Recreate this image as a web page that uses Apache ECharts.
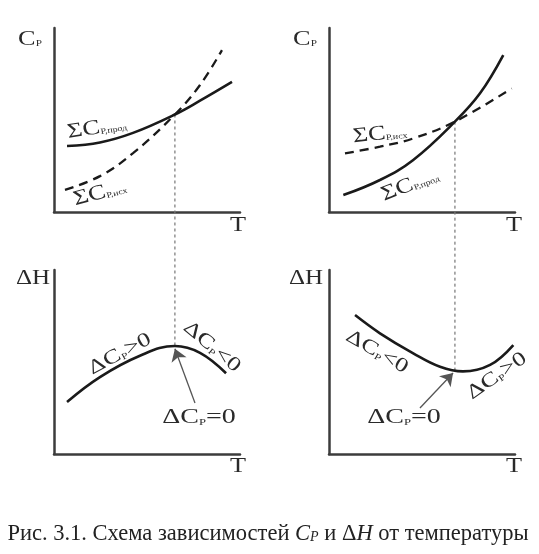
<!DOCTYPE html>
<html><head><meta charset="utf-8">
<script src="https://cdn.jsdelivr.net/npm/echarts@6/dist/echarts.min.js"></script>
<style>html,body{margin:0;padding:0;background:#fff}#c{width:539px;height:554px}</style>
</head><body><div id="c"></div>
<script>
// ---- data (schematic; T and value in arbitrary units 0..10) ----
// top-left: ΣCp,прод (solid) and ΣCp,исх (dashed)
const tlProdT = [0.7, 2.47, 4.25, 6.5, 7.85, 9.57];
const tlProdC = [3.59, 3.78, 4.3, 5.3, 6.05, 7.07];
const tlIshT  = [0.59, 2.47, 4.25, 6.5, 7.85, 9.03];
const tlIshC  = [1.2, 1.95, 3.2, 5.3, 6.9, 8.8];
// top-right
const trProdT = [0.77, 2.74, 4.53, 6.77, 8.12, 9.37];
const trProdC = [0.92, 1.74, 2.83, 4.91, 6.45, 8.53];
const trIshT  = [0.86, 2.74, 4.53, 6.77, 9.82];
const trIshC  = [3.19, 3.55, 4.0, 4.91, 6.72];
// bottom-left: ΔH with maximum
const blT = [0.7, 2.47, 4.62, 6.5, 7.85, 9.25];
const blH = [2.83, 4.18, 5.34, 5.87, 5.5, 4.39];
// bottom-right: ΔH with minimum
const brT = [1.4, 2.74, 4.53, 5.97, 7.2, 8.66, 9.91];
const brH = [7.55, 6.56, 5.47, 4.74, 4.49, 4.84, 5.92];
// arrows pointing to the extremum (from label to curve)
const blArrow = [[7.58, 2.77], [6.5, 5.72]];
const brArrow = [[4.89, 2.5], [6.67, 4.4]];
// crossing / extremum: T and the values on the upper and lower panels
const leftCross = {t: 6.5, top: 5.3, bottom: 5.87};
const rightCross = {t: 6.77, top: 4.91, bottom: 4.52};

const zip = (a, b) => a.map((v, i) => [v, b[i]]);

// ---- layout ----
const W = 186, H = 184;
const L1 = 54, L2 = 329, T1 = 28, T2 = 270;
const unitY = H / 10;
const overlayH = T2 + H - T1;
const overlayMax = overlayH / unitY;
const topOffset = (T2 - T1) / unitY;

const axisColor = '#3c3c3c';
const inkColor = '#1a1a1a';
const textColor = '#2a2a2a';
const serif = '"Liberation Serif", "DejaVu Serif", serif';

function vAxis(gi, show) {
  return {type: 'value', gridIndex: gi, min: 0, max: 10, show: show,
    axisLine: {show: true, onZero: false, lineStyle: {color: axisColor, width: 2.5}},
    axisTick: {show: false}, axisLabel: {show: false}, splitLine: {show: false}};
}
const xAxes = [0,1,2,3].map(i => vAxis(i, true)).concat([vAxis(4, false), vAxis(5, false)]);
const yAxes = [0,1,2,3].map(i => vAxis(i, true)).concat([
  Object.assign(vAxis(4, false), {max: overlayMax}),
  Object.assign(vAxis(5, false), {max: overlayMax})
]);

function curve(gi, data, dashed, extra) {
  return Object.assign({
    type: 'line', xAxisIndex: gi, yAxisIndex: gi, data: data, smooth: 0.4,
    symbol: 'none', silent: true, z: 3,
    lineStyle: {color: inkColor, width: dashed ? 2.3 : 2.6, type: dashed ? [9, 6] : 'solid'}
  }, extra || {});
}
function arrowML(pts) {
  return {silent: true, symbol: ['none', 'arrow'], symbolSize: 12,
    lineStyle: {color: '#555', width: 1.3, type: 'solid'}, label: {show: false},
    itemStyle: {color: '#222'},
    data: [[{coord: pts[0]}, {coord: pts[1]}]]};
}
function dotted(gi, c) {
  return {type: 'line', xAxisIndex: gi, yAxisIndex: gi, symbol: 'none', silent: true, z: 1,
    lineStyle: {color: '#777', width: 1.2, type: [3, 3]},
    data: [[c.t, c.top + topOffset], [c.t, c.bottom]]};
}

function txt(x, y, str, rot, mainSize, subSize, sx) {
  return {type: 'text', x: x, y: y, rotation: rot * Math.PI / 180, scaleX: sx || 1.25, z: 10,
    style: {text: str, align: 'center', verticalAlign: 'middle', fill: textColor,
      font: mainSize + 'px ' + serif,
      rich: {
        m: {fontSize: mainSize, fontFamily: serif, fill: textColor},
        s: {fontSize: subSize, fontFamily: serif, fill: textColor,
            padding: [Math.round(mainSize * 0.45), 0, 0, 0]}
      }}};
}

const graphics = [
  txt(30, 39, '{m|C}{s|P}', 0, 21, 9),
  txt(305, 39, '{m|C}{s|P}', 0, 21, 9),
  txt(33, 279, '{m|ΔH}', 0, 20, 9),
  txt(306, 279, '{m|ΔH}', 0, 20, 9),
  txt(238, 225, '{m|T}', 0, 21, 9),
  txt(514, 225, '{m|T}', 0, 21, 9),
  txt(238, 466, '{m|T}', 0, 21, 9),
  txt(514, 466, '{m|T}', 0, 21, 9),
  txt(97, 128, '{m|ΣC}{s|Р,прод}', 9, 21, 8),
  txt(100, 193, '{m|ΣC}{s|Р,исх}', 15, 21, 8),
  txt(380, 134, '{m|ΣC}{s|Р,исх}', 6, 21, 8),
  txt(410, 185, '{m|ΣC}{s|Р,прод}', 21, 21, 8),
  txt(120, 354, '{m|ΔC}{s|P}{m|>0}', 28, 20, 9, 1.3),
  txt(212, 347, '{m|ΔC}{s|P}{m|<0}', -40, 20, 9, 1.3),
  txt(199, 418, '{m|ΔC}{s|P}{m|=0}', 0, 20, 9, 1.4),
  txt(377, 352, '{m|ΔC}{s|P}{m|<0}', -30, 20, 9, 1.3),
  txt(497, 376, '{m|ΔC}{s|P}{m|>0}', 35, 20, 9, 1.3),
  txt(404, 418, '{m|ΔC}{s|P}{m|=0}', 0, 20, 9, 1.4),
  {type: 'text', x: 268, y: 534, z: 10,
    style: {text: '{n|Рис. 3.1. Схема зависимостей }{i|C}{is|P}{n| и Δ}{i|H}{n| от температуры}',
      align: 'center', verticalAlign: 'middle', fill: '#222', font: '22.5px ' + serif,
      rich: {
        n: {fontSize: 22.5, fontFamily: serif, fill: '#222'},
        i: {fontSize: 22.5, fontFamily: serif, fontStyle: 'italic', fill: '#222'},
        is: {fontSize: 14, fontFamily: serif, fontStyle: 'italic', fill: '#222', padding: [7, 0, 0, 0]}
      }}}
];

const option = {
  animation: false,
  backgroundColor: '#fff',
  grid: [
    {left: L1, top: T1, width: W, height: H},
    {left: L2, top: T1, width: W, height: H},
    {left: L1, top: T2, width: W, height: H},
    {left: L2, top: T2, width: W, height: H},
    {left: L1, top: T1, width: W, height: overlayH},
    {left: L2, top: T1, width: W, height: overlayH}
  ],
  xAxis: xAxes,
  yAxis: yAxes,
  series: [
    curve(0, zip(tlProdT, tlProdC), false),
    curve(0, zip(tlIshT, tlIshC), true),
    curve(1, zip(trProdT, trProdC), false),
    curve(1, zip(trIshT, trIshC), true),
    curve(2, zip(blT, blH), false, {markLine: arrowML(blArrow)}),
    curve(3, zip(brT, brH), false, {markLine: arrowML(brArrow)}),
    dotted(4, leftCross),
    dotted(5, rightCross)
  ],
  graphic: graphics
};
const chart = echarts.init(document.getElementById('c'), null, {renderer: 'canvas'});
chart.setOption(option);
</script></body></html>
